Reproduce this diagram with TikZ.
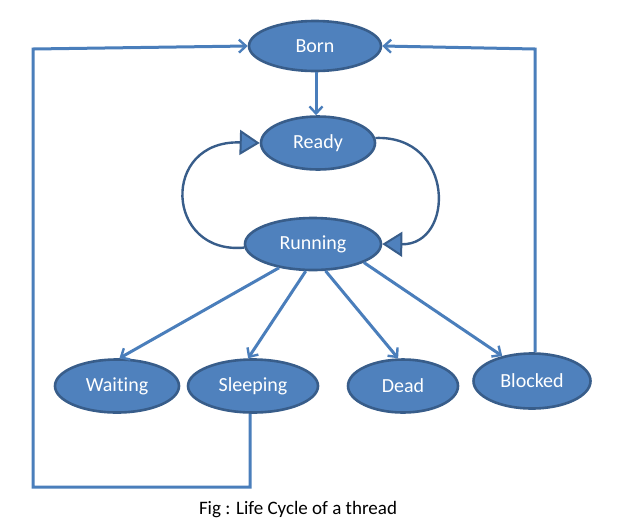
\documentclass[tikz,border=0pt]{standalone}
\usepackage{fontspec}
\setmainfont{Carlito}[Ligatures=NoCommon]
\usetikzlibrary{shapes.geometric,arrows.meta}
\definecolor{statefill}{HTML}{4F81BD}
\definecolor{stateedge}{HTML}{385D8A}
\definecolor{linkcol}{HTML}{4A7EBB}
\tikzset{
  state/.style={ellipse,draw=stateedge,line width=2.6pt,fill=statefill,text=white,inner sep=0pt,font=\fontsize{20}{22}\selectfont},
  link/.style={draw=linkcol,line width=3pt,-{Straight Barb[length=7pt,width=13pt,line width=2.4pt]}},
  biglink/.style={draw=stateedge,line width=2.4pt,-{Triangle[length=20pt,width=25pt,fill=statefill,line width=2pt]}},
}
\begin{document}
\begin{tikzpicture}[x=1pt,y=-1pt]
\useasboundingbox[fill=white] (0,0) rectangle (623,531);
\node[state,minimum width=132pt,minimum height=50pt] (born) at (315,46) {Born};
\node[state,minimum width=114pt,minimum height=53pt] (ready) at (318,143) {Ready};
\node[state,minimum width=136pt,minimum height=52pt] (running) at (313,244) {Running};
\node[state,minimum width=124pt,minimum height=53pt] (waiting) at (117,386) {Waiting};
\node[state,minimum width=130pt,minimum height=53pt] (sleeping) at (253,386) {Sleeping};
\node[state,minimum width=110pt,minimum height=53pt] (dead) at (403,386) {Dead};
\node[state,minimum width=117pt,minimum height=55pt] (blocked) at (532,381) {Blocked};
\node[font=\fontsize{19}{21}\selectfont] (cap) at (298,510) {Fig : Life Cycle of a thread};
\coordinate (c0) at (316,0);
\coordinate (c1) at (250,487);
\coordinate (c2) at (33,487);
\coordinate (c3) at (33,49);
\coordinate (c4) at (535,49);
\draw[link] (born.south -| c0) -- (ready.north -| c0);
\draw[biglink] (running.183) .. controls (165,255) and (160,140) .. (ready.west);
\draw[biglink] (ready.5) .. controls (455,135) and (455,245) .. (running.east);
\draw[link] (running.215) -- (waiting.85);
\draw[link] (running.255) -- (sleeping.100);
\draw[link] (running.295) -- (dead.100);
\draw[link] (running.340) -- (blocked.140);
\draw[link] (blocked.north -| c4) -- (c4) -- (born.east);
\draw[link] (sleeping.south -| c1) -- (c1) -- (c2) -- (c3) -- (born.west);
\end{tikzpicture}
\end{document}
